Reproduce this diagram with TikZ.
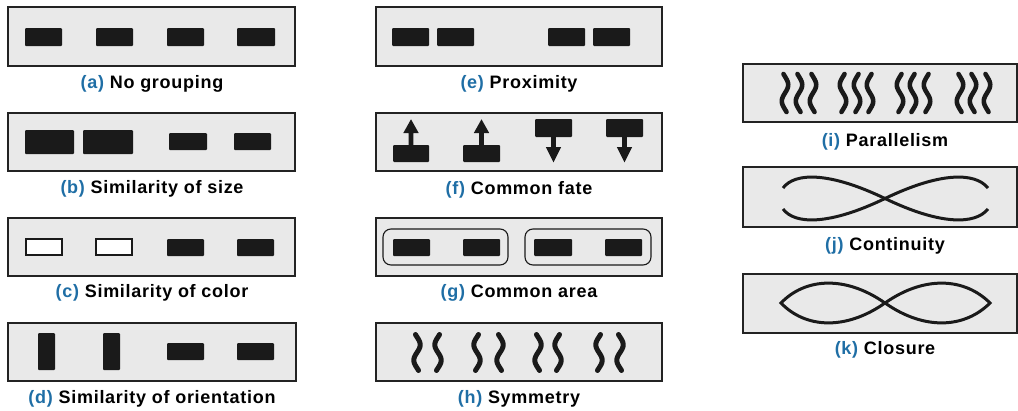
\documentclass[tikz,border=0pt]{standalone}
\usepackage{fontspec}
\setmainfont{Liberation Sans}
\newfontfamily\lblfont[LetterSpace=4]{Liberation Sans}
\definecolor{boxfill}{RGB}{233,233,233}
\definecolor{boxline}{RGB}{35,35,35}
\definecolor{blk}{RGB}{26,26,26}
\definecolor{lblue}{RGB}{31,110,165}
\tikzset{
  panel/.style={draw=boxline,fill=boxfill,line width=2pt},
  blkrect/.style={fill=blk,rounded corners=1pt},
  whiterect/.style={draw=blk,fill=white,line width=1.6pt},
  grpbox/.style={draw=blk,line width=1.1pt,rounded corners=8pt},
  wavy/.style={draw=blk,line width=5pt,line cap=round},
  wavyi/.style={draw=blk,line width=4.6pt,line cap=round},
  curvy/.style={draw=blk,line width=3pt},
  lbl/.style={anchor=base,inner sep=0pt,font=\lblfont\bfseries\fontsize{18}{18}\selectfont},
}
\newcommand\blkr[4]{\fill[blkrect] (#1,#2) rectangle (#3,#4);}
% wave: center x, top y, height, direction (+1 right first, -1 left first), style
\newcommand\wavey[5]{\draw[#5] plot[domain=-0.08:1.08,samples=40,smooth] ({#1+#4*3.2*sin(360*\x)},{#2+#3*\x});}
\begin{document}
\begin{tikzpicture}[x=1pt,y=-1pt]
\useasboundingbox (0,0) rectangle (1018,410);
% ---------- column 1 ----------
% (a)
\draw[panel] (8,7) rectangle (295,66);
\blkr{25}{28}{62}{46}\blkr{96}{28}{133}{46}\blkr{167}{28}{204}{46}\blkr{237}{28}{275}{46}
\node[lbl] (la) at (152,88) {\textcolor{lblue}{(a)} No grouping};
% (b)
\draw[panel] (8,113) rectangle (295,171);
\blkr{25}{130}{74}{154}\blkr{83}{130}{133}{154}\blkr{169}{133}{207}{150}\blkr{234}{133}{271}{150}
\node[lbl] (lb) at (152,193) {\textcolor{lblue}{(b)} Similarity of size};
% (c)
\draw[panel] (8,218) rectangle (295,276);
\draw[whiterect] (26,239) rectangle (62,255);
\draw[whiterect] (96,239) rectangle (132,255);
\blkr{167}{239}{204}{256}\blkr{237}{239}{274}{256}
\node[lbl] (lc) at (152,297) {\textcolor{lblue}{(c)} Similarity of color};
% (d)
\draw[panel] (8,323) rectangle (296,381);
\blkr{38}{333}{55}{370}\blkr{103}{333}{120}{370}\blkr{167}{343}{204}{360}\blkr{237}{343}{274}{360}
\node[lbl] (ld) at (152,403) {\textcolor{lblue}{(d)} Similarity of orientation};
% ---------- column 2 ----------
% (e)
\draw[panel] (376,7) rectangle (662,66);
\blkr{392}{28}{429}{46}\blkr{437}{28}{474}{46}\blkr{548}{28}{585}{46}\blkr{593}{28}{630}{46}
\node[lbl] (le) at (519,88) {\textcolor{lblue}{(e)} Proximity};
% (f)
\draw[panel] (376,113) rectangle (662,171);
\blkr{393}{145}{429}{162}\blkr{463}{145}{500}{162}
\blkr{535}{119}{572}{137}\blkr{606}{119}{643}{137}
\fill[blk] (408.6,146) -- (408.6,133) -- (403.3,133) -- (411,119.3) -- (418.7,133) -- (413.4,133) -- (413.4,146) -- cycle;
\fill[blk] (479.1,146) -- (479.1,133) -- (473.8,133) -- (481.5,119.3) -- (489.2,133) -- (483.9,133) -- (483.9,146) -- cycle;
\fill[blk] (551.1,136) -- (551.1,147) -- (545.8,147) -- (553.5,162.3) -- (561.2,147) -- (555.9,147) -- (555.9,136) -- cycle;
\fill[blk] (622.1,136) -- (622.1,147) -- (616.8,147) -- (624.5,162.3) -- (632.2,147) -- (626.9,147) -- (626.9,136) -- cycle;
\node[lbl] (lf) at (519,194) {\textcolor{lblue}{(f)} Common fate};
% (g)
\draw[panel] (376,218) rectangle (662,276);
\draw[grpbox] (383,229) rectangle (508,265);
\draw[grpbox] (525,229) rectangle (651,265);
\blkr{393}{239}{430}{256}\blkr{463}{239}{500}{256}\blkr{534}{239}{572}{256}\blkr{605}{239}{642}{256}
\node[lbl] (lg) at (519,297) {\textcolor{lblue}{(g)} Common area};
% (h)
\draw[panel] (376,323) rectangle (662,381);
\wavey{417}{337}{31}{1}{wavy}\wavey{438}{337}{31}{-1}{wavy}
\wavey{477}{337}{31}{-1}{wavy}\wavey{500}{337}{31}{1}{wavy}
\wavey{538}{337}{31}{1}{wavy}\wavey{558}{337}{31}{-1}{wavy}
\wavey{599}{337}{31}{-1}{wavy}\wavey{620}{337}{31}{1}{wavy}
\node[lbl] (lh) at (519,403) {\textcolor{lblue}{(h)} Symmetry};
% ---------- column 3 ----------
% (i)
\draw[panel] (743,64) rectangle (1017,122);
\wavey{785}{76.6}{32.8}{1}{wavyi}\wavey{799}{76.6}{32.8}{1}{wavyi}\wavey{813}{76.6}{32.8}{1}{wavyi}
\wavey{843}{76.6}{32.8}{-1}{wavyi}\wavey{857}{76.6}{32.8}{-1}{wavyi}\wavey{870}{76.6}{32.8}{-1}{wavyi}
\wavey{900}{76.6}{32.8}{-1}{wavyi}\wavey{913}{76.6}{32.8}{-1}{wavyi}\wavey{927}{76.6}{32.8}{-1}{wavyi}
\wavey{960}{76.6}{32.8}{1}{wavyi}\wavey{973}{76.6}{32.8}{1}{wavyi}\wavey{987}{76.6}{32.8}{1}{wavyi}
\node[lbl] (li) at (885,146) {\textcolor{lblue}{(i)} Parallelism};
% (j)
\draw[panel] (743,167) rectangle (1017,227);
\draw[curvy] (783,188) .. controls (795,172) and (830,172) .. (885,198.5) .. controls (940,225) and (975,225) .. (988,209);
\draw[curvy] (783,209) .. controls (795,225) and (830,225) .. (885,198.5) .. controls (940,172) and (975,172) .. (988,188);
\node[lbl] (lj) at (885,250) {\textcolor{lblue}{(j)} Continuity};
% (k)
\draw[panel] (743,274) rectangle (1017,333);
\draw[curvy,line join=miter] (781,303) .. controls (805,278) and (845,275) .. (885,303) .. controls (925,331) and (965,328) .. (990,303) .. controls (965,278) and (925,275) .. (885,303) .. controls (845,331) and (805,328) .. (781,303) -- cycle;
\node[lbl] (lk) at (885,354) {\textcolor{lblue}{(k)} Closure};
\end{tikzpicture}
\end{document}
